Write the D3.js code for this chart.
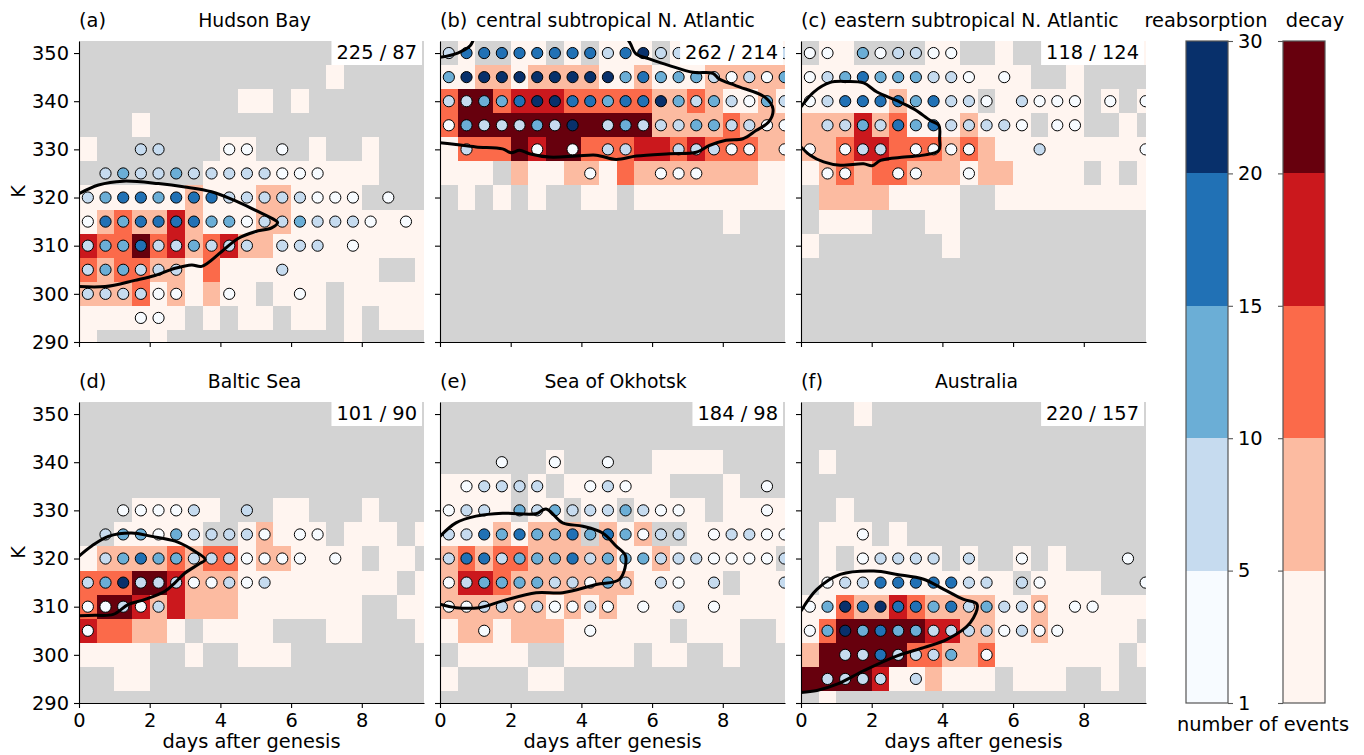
<!DOCTYPE html>
<html>
<head>
<meta charset="utf-8">
<script src="https://cdn.jsdelivr.net/npm/d3@7"></script>
<style>
  body { margin: 0; background: #fff; }
  text { font-family: "DejaVu Sans", sans-serif; }
</style>
</head>
<body>
<svg id="chart" width="1364" height="755"></svg>
<script>
// grid: columns are half-day bins, rows are 5 K bins (top row 350 K down to 290 K)
const dayCenters = d3.range(20).map((i) => 0.25 + 0.5 * i);
const thetaLevels = d3.range(350, 289, -5);
const bounds = [1, 5, 10, 15, 20, 30];
// class digit -> representative number of events (0 = none)
const classCounts = [0, 3, 7, 12, 17, 25];

const titles = ["Hudson Bay", "central subtropical N. Atlantic", "eastern subtropical N. Atlantic",
  "Baltic Sea", "Sea of Okhotsk", "Australia"];
const tags = ["(a)", "(b)", "(c)", "(d)", "(e)", "(f)"];
const totals = ["225 / 87", "262 / 214", "118 / 124", "101 / 90", "184 / 98", "220 / 157"];

// decay counts (class digits), reabsorption counts ("." = none)
const decayA = [
  "00000000000000001000", "00000000000000100000", "00000000011010000000", "00010000000000000000",
  "10000000110001001000", "00000001111111111000", "11111121112211110000", "12322421112211111111",
  "43353423422111111111", "32332213111111111001", "22231212110111011111", "11111101011011010111",
  "10001000000000010000"];
const reabsA = [
  "....................", "....................", "....................", "....................",
  "...22...11.1........", ".2322322222111......", "2344344422222111.1..", "14344443312232221.1.",
  "2334223222.222.1....", "233222.....2........", "222211..1...1.......", "...11...............",
  "...................."];

const decayB = [
  "01001101011101111111", "11221222211211122222", "35534443333322321121", "35555555555522223222",
  "13335455333443433322", "11102112213222222211", "01010100110111111111", "00000000000000001000",
  "00000000000000000000", "00000000000000000000", "00000000000000000000", "00000000000000000000",
  "00000000000000000000"];
const reabsB = [
  "24444444424522232322", "35555555553433321213", "22334554434453232132", "13222325.23222332211",
  ".2...1.1.22..22211.1", "........1...111.....", "....................", "....................",
  "....................", "....................", "....................", "....................",
  "...................."];

const decayC = [
  "01100001100100111111", "11111111111110010000", "11111211110111110101", "22242311121110110010",
  "22344333232111111111", "12323322212211110101", "02222111100111111111", "01110001100000000000",
  "10000000100000000000", "00000000000000000000", "00000000000000000000", "00000000000000000000",
  "00000000000000000000"];
const reabsC = [
  "11.312211...........", "1234333221.1........", "12444434221.2111.1.1", ".223243422221.11....",
  "1.122.1111...2.....1", ".11..11..1..........", "....................", "....................",
  "....................", "....................", "....................", "....................",
  "...................."];

const decayD = [
  "00000000000000000000", "00000000000000000000", "00000000000000000000", "00000000000000000000",
  "00011111000110001000", "00111110012111011101", "12222323312211110110", "33355422211111111101",
  "35542422211111110011", "43322101111000110001", "11110010011100000000", "00110000000000000000",
  "00000000000000000000"];
const reabsD = [
  "....................", "....................", "....................", "....................",
  "..11112..2..........", ".2331322221.11......", ".234332221111.1.....", "23522211212.........",
  "11212...............", "1...................", "....................", "....................",
  "...................."];

const decayE = [
  "00000000000000000000", "00000000000000000000", "00000010000011110000", "11110101111110001000",
  "11110110110111101111", "11121222021200111111", "23233222221121111110", "24432222222111110111",
  "22222212121111111111", "12212221111110111001", "01111001111011001000", "10000110000000000000",
  "00000000000000000000"];
const reabsE = [
  "....................", "....................", "...1..1..1..........", ".12222..121.......1.",
  "122.3232223211....1.", "22434334343122.12211", "24423334233322211112", "12333322132.21.2...2",
  "1122121121.1.2.1....", "..1.....1...........", "....................", "....................",
  "...................."];

const decayF = [
  "00010000000000000000", "00000000000000000000", "01000000000000000000", "00000000000000000000",
  "00100000000000000000", "01110100000000000000", "01011111010010100000", "01111111111101111000",
  "11322432222112111111", "13555554422112111110", "25555533223111111101", "55554112111011100100",
  "01000000000000000000"];
const reabsF = [
  "....................", "....................", "....................", "....................",
  "....................", "...1................", "...12222.2..1.....1.", ".1224444422.21.....1",
  "13545443423221.11...", "135343322221211.....", "..2242223.1.........", ".2222.2.............",
  "...................."];

// contour lines [days, K]
const contourA = [[0, 320.8], [0.55, 322.6], [1.25, 323.4], [2.25, 322.9], [3.0, 322.2], [3.75, 321.2],
  [4.4, 319.4], [4.98, 317.4], [5.55, 315.3], [5.62, 314.8], [5.45, 313.7], [4.98, 312.9], [4.5, 311.5],
  [4.04, 308.8], [3.47, 305.7], [3.19, 306], [2.72, 305.3], [2.15, 303.8], [1.58, 302.8], [0.74, 301.5], [0, 301.5]];
const contourB = [[0, 349.1], [0.5, 350], [0.85, 351.5], [1.05, 353.5], [5.2, 353.5], [5.55, 349.8],
  [5.92, 348.8], [6.49, 347.4], [7.15, 346], [7.72, 345.8], [7.9, 344.6], [8.38, 343.2], [9.2, 340.8],
  [9.42, 338.4], [9.3, 335.7], [8.94, 333.9], [8.57, 332.2], [8.09, 331.9], [7.62, 330.8], [7.25, 329.4],
  [6.49, 329.1], [5.55, 328.6], [4.98, 327.9], [4.42, 328.8], [3.85, 328.6], [3.09, 328.4], [2.53, 329.1],
  [2.25, 329.8], [2.01, 329.3], [1.77, 330.1], [1.02, 330.5], [0.45, 331], [0, 331.4]];
const contourC = [[0, 338.8], [0.36, 341.9], [0.83, 343.9], [1.3, 344.1], [1.77, 343.8], [2.15, 341.9],
  [2.72, 340.1], [3.19, 338.4], [3.66, 336], [3.9, 335], [3.92, 332.2], [3.9, 329.8], [3.47, 328.8],
  [2.92, 328.4], [2.25, 327.7], [2.01, 326.6], [1.77, 327], [1.11, 326.7], [0.64, 327.4], [0.26, 328.8], [0, 330.5]];
const contourD = [[0, 320.5], [0.36, 322.6], [0.83, 324.6], [1.49, 325.3], [2.06, 324.6], [2.72, 323.6],
  [3.19, 321.9], [3.57, 319.8], [3.38, 318.8], [3.0, 317], [2.72, 315], [2.43, 313.2], [1.87, 311.5],
  [1.4, 310.5], [0.97, 308.4], [0.45, 308.2], [0, 308.1]];
const contourE = [[0, 324.6], [0.45, 327.4], [1.02, 328.8], [1.77, 329.4], [2.72, 329.3], [3.0, 330.3],
  [3.47, 327.4], [4.04, 326.7], [4.6, 325.3], [4.98, 322.6], [5.25, 320.5], [5.08, 315.7], [4.42, 314.6],
  [3.47, 312.9], [2.72, 312.9], [1.77, 311.2], [1.11, 309.8], [0.45, 309.8], [0, 310.5]];
const contourF = [[0, 309.1], [0.45, 313.6], [1.11, 316.7], [2.06, 317.4], [2.72, 316.7], [3.47, 315.7],
  [4.04, 313.6], [4.6, 311.5], [4.98, 310.5], [4.79, 306.7], [4.13, 303.2], [3.47, 301.5], [2.72, 299.8],
  [1.77, 296.7], [1.02, 293.9], [0.45, 292.6], [0, 292.2]];

const decays = [decayA, decayB, decayC, decayD, decayE, decayF];
const reabss = [reabsA, reabsB, reabsC, reabsD, reabsE, reabsF];
const contours = [contourA, contourB, contourC, contourD, contourE, contourF];

const reds = ["#fff5f0", "#fcbba1", "#fb6a4a", "#cb181d", "#67000d"];
const blues = ["#f7fbff", "#c6dbef", "#6baed6", "#2171b5", "#08306b"];
const redScale = d3.scaleThreshold().domain(bounds.slice(1, 5)).range(reds);
const blueScale = d3.scaleThreshold().domain(bounds.slice(1, 5)).range(blues);

const fontSize = 19.4;
const W = 345, H = 301;
const panelX = [79, 440, 801];
const panelY = [41, 402];

const x = d3.scaleLinear().domain([0, 9.76]).range([0, W]);
const y = d3.scaleLinear().domain([290, 352.5]).range([H, 0]);

const svg = d3.select("#chart");

function cellsOf(rows, blank) {
  const out = [];
  rows.forEach((row, r) => {
    for (let c = 0; c < 20; c++) {
      const ch = row[c] ?? blank;
      if (ch === blank || ch === "0") continue;
      out.push({day: dayCenters[c], k: thetaLevels[r], n: classCounts[+ch]});
    }
  });
  return out;
}

titles.forEach((title, i) => {
  const col = i % 3, row = Math.floor(i / 3);
  const g = svg.append("g").attr("transform", `translate(${panelX[col]},${panelY[row]})`);

  g.append("clipPath").attr("id", `clip${i}`)
    .append("rect").attr("width", W).attr("height", H);
  const body = g.append("g").attr("clip-path", `url(#clip${i})`);

  body.append("rect").attr("width", W).attr("height", H).attr("fill", "#d3d3d3");

  body.selectAll("rect.cell").data(cellsOf(decays[i], "0")).join("rect")
    .attr("class", "cell")
    .attr("x", (d) => x(d.day - 0.25))
    .attr("y", (d) => y(d.k + 2.5))
    .attr("width", (d) => x(d.day + 0.25) - x(d.day - 0.25))
    .attr("height", (d) => y(d.k - 2.5) - y(d.k + 2.5))
    .attr("fill", (d) => redScale(d.n))
    .attr("shape-rendering", "crispEdges");

  body.selectAll("circle").data(cellsOf(reabss[i], ".")).join("circle")
    .attr("cx", (d) => x(d.day))
    .attr("cy", (d) => y(d.k))
    .attr("r", 5.6)
    .attr("fill", (d) => blueScale(d.n))
    .attr("stroke", "#000")
    .attr("stroke-width", 1);

  body.append("path")
    .datum(contours[i])
    .attr("d", d3.line().x((d) => x(d[0])).y((d) => y(d[1])).curve(d3.curveCatmullRom.alpha(0.5)))
    .attr("fill", "none")
    .attr("stroke", "#000")
    .attr("stroke-width", 3)
    .attr("stroke-linejoin", "round");

  // event totals box, top right
  const label = g.append("text")
    .attr("x", W - 7).attr("y", 17.5)
    .attr("text-anchor", "end")
    .attr("font-size", fontSize)
    .text(totals[i]);
  const len = label.node().getComputedTextLength();
  g.insert("rect", "text")
    .attr("x", W - 7 - len - 5).attr("y", 0)
    .attr("width", len + 10).attr("height", 24)
    .attr("fill", "#fff");

  // axes: left and bottom spines only
  const yAxis = d3.axisLeft(y).tickValues(d3.range(290, 351, 10)).tickSize(5).tickPadding(5).tickSizeOuter(0);
  if (col > 0) yAxis.tickFormat("");
  const ya = g.append("g").call(yAxis);
  const xAxis = d3.axisBottom(x).tickValues([0, 2, 4, 6, 8]).tickSize(5).tickPadding(5).tickSizeOuter(0);
  if (row === 0) xAxis.tickFormat("");
  const xa = g.append("g").attr("transform", `translate(0,${H})`).call(xAxis);
  [ya, xa].forEach((a) => {
    a.selectAll("text").attr("font-size", fontSize).attr("font-family", "DejaVu Sans").attr("fill", "#000");
    a.selectAll("line").attr("stroke", "#000").attr("stroke-width", 1.1);
    a.select(".domain").attr("stroke", "#000").attr("stroke-width", 1.1);
  });

  g.append("text").attr("x", 0).attr("y", -14).attr("font-size", fontSize).text(tags[i]);
  g.append("text").attr("x", W / 2 + 3).attr("y", -14).attr("text-anchor", "middle")
    .attr("font-size", 18.8).text(title);

  if (col === 0) {
    g.append("text")
      .attr("transform", `translate(${18 - panelX[0] + 7},${H / 2}) rotate(-90)`)
      .attr("text-anchor", "middle")
      .attr("font-size", fontSize)
      .text("K");
  }
  if (row === 1) {
    g.append("text").attr("x", W / 2).attr("y", H + 45).attr("text-anchor", "middle")
      .attr("font-size", fontSize).text("days after genesis");
  }
});

// colorbars
const cbY = d3.scaleLinear().domain([0, 5]).range([703, 41]);
const cbW = 42;
const bars = [
  {x: 1186, colors: blues, name: "reabsorption", side: "right", labelX: 20},
  {x: 1283, colors: reds, name: "decay", side: "left", labelX: 32}
];
bars.forEach((b) => {
  const g = svg.append("g").attr("transform", `translate(${b.x},0)`);
  g.selectAll("rect.seg").data(b.colors).join("rect")
    .attr("class", "seg")
    .attr("x", 0).attr("width", cbW)
    .attr("y", (d, i) => cbY(i + 1))
    .attr("height", (d, i) => cbY(i) - cbY(i + 1))
    .attr("fill", (d) => d)
    .attr("shape-rendering", "crispEdges");
  g.append("rect").attr("x", 0).attr("y", cbY(5)).attr("width", cbW).attr("height", cbY(0) - cbY(5))
    .attr("fill", "none").attr("stroke", "#555").attr("stroke-width", 1.2);
  let axis;
  if (b.side === "right") {
    axis = d3.axisRight(cbY).tickValues(d3.range(6)).tickFormat((i) => bounds[i]).tickSize(5).tickPadding(5);
  } else {
    axis = d3.axisLeft(cbY).tickValues(d3.range(6)).tickFormat("").tickSize(5);
  }
  const a = g.append("g").attr("transform", `translate(${b.side === "right" ? cbW : 0},0)`).call(axis);
  a.select(".domain").remove();
  a.selectAll("line").attr("stroke", "#555").attr("stroke-width", 1.1);
  a.selectAll("text").attr("font-size", fontSize).attr("font-family", "DejaVu Sans").attr("fill", "#000");
  g.append("text").attr("x", b.labelX).attr("y", 27).attr("text-anchor", "middle")
    .attr("font-size", fontSize).text(b.name);
});
svg.append("text").attr("x", 1263).attr("y", 731).attr("text-anchor", "middle")
  .attr("font-size", fontSize).text("number of events");
</script>
</body>
</html>
